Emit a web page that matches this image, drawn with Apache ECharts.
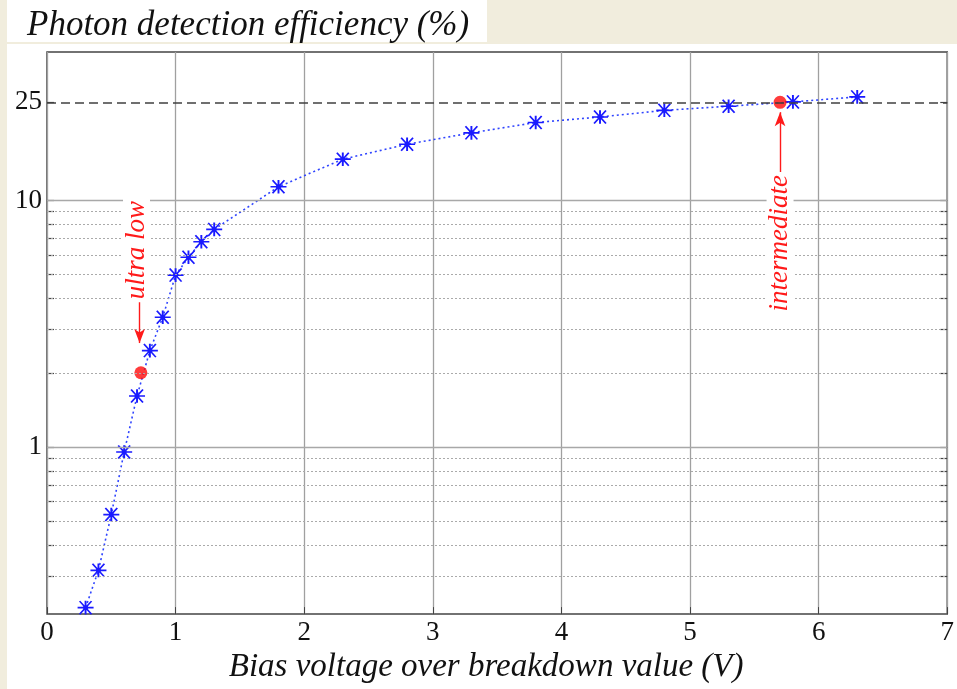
<!DOCTYPE html>
<html>
<head>
<meta charset="utf-8">
<script src="https://cdn.jsdelivr.net/npm/echarts@6/dist/echarts.min.js"></script>
<style>html,body{margin:0;padding:0;background:#fff}#c{width:957px;height:689px}</style>
</head>
<body>
<div id="c"></div>
<script>
// ---- data ----
const biasVoltage = [0.3, 0.4, 0.5, 0.6, 0.7, 0.8, 0.9, 1.0, 1.1, 1.2, 1.3, 1.8, 2.3, 2.8, 3.3, 3.8, 4.3, 4.8, 5.3, 5.8, 6.3];
const pdeValues   = [0.223, 0.316, 0.532, 0.954, 1.61, 2.46, 3.36, 4.98, 5.88, 6.80, 7.63, 11.36, 14.7, 16.9, 18.8, 20.7, 21.8, 23.2, 24.1, 25.1, 26.3];
const operatingNames = ['ultra low', 'intermediate'];
const operatingX = [0.73, 5.70];
const operatingY = [2.0, 25.0];
const yTickLabels = [1, 10, 25];
const yMajorGrid = [1, 10];
const yMinorGrid = [0.3, 0.4, 0.5, 0.6, 0.7, 0.8, 0.9, 2, 3, 4, 5, 6, 7, 8, 9];
const referenceLevel = 25;
const yTicksAll = [0.3, 0.4, 0.5, 0.6, 0.7, 0.8, 0.9, 1, 2, 3, 4, 5, 6, 7, 8, 9, 10, 25];

const serif = '"Liberation Serif", "Times New Roman", serif';
const asterisk = 'path://M0 8.8L20 8.8L20 11.2L0 11.2Z M8.8 0L11.2 0L11.2 20L8.8 20Z M1.7 1.1L3.4 -0.3L18.3 18.9L16.6 20.3Z M16.6 -0.3L18.3 1.1L3.4 20.3L1.7 18.9Z M7 7L13 7L13 13L7 13Z';

const gridLines = [];
yMajorGrid.forEach(v => gridLines.push({yAxis: v, lineStyle: {type: 'solid', color: '#a8a8a8', width: 1.3}}));
yMinorGrid.forEach(v => gridLines.push({yAxis: v, lineStyle: {type: [2, 2], color: '#aaaaaa', width: 1}}));
gridLines.push({yAxis: referenceLevel, lineStyle: {type: [9, 5], color: '#404040', width: 1.6}});

// annotation anchors (data coordinates)
const arrowSpecs = [
  {from: [0.72, 3.95], to: [0.72, 2.64], text: [0.696, 6.29]},
  {from: [5.70, 12.4], to: [5.70, 22.8], text: [5.70, 6.71]}
];

const chart = echarts.init(document.getElementById('c'));
const yAxisBase = {
  type: 'log', min: 0.21, max: 40, logBase: 10,
  axisLine: {show: false},
  splitLine: {show: false},
  axisTick: {show: true, inside: true, length: 7, lineStyle: {color: '#444', width: 1.2}, customValues: yTicksAll},
};
chart.setOption({
  animation: false,
  backgroundColor: '#ffffff',
  title: {
    text: 'Photon detection efficiency (%)',
    left: 27, top: 8, padding: 0,
    textStyle: {fontFamily: serif, fontStyle: 'italic', fontWeight: 'normal', fontSize: 35, color: '#111'}
  },
  graphic: {elements: [
    {type: 'rect', z: -10, shape: {x: 0, y: 0, width: 957, height: 44}, style: {fill: '#f1eddd'}},
    {type: 'rect', z: -10, shape: {x: 0, y: 0, width: 7, height: 689}, style: {fill: '#f1eddd'}},
    {type: 'rect', z: -9, shape: {x: 7, y: 0, width: 480, height: 42}, style: {fill: '#ffffff'}}
  ]},
  grid: {left: 47, right: 5, top: 52, bottom: 74, show: true, backgroundColor: '#fff', borderColor: '#444', borderWidth: 1.5},
  xAxis: {
    type: 'value', min: 0, max: 7, interval: 1,
    axisLine: {show: false},
    axisTick: {show: true, inside: true, length: 7, lineStyle: {color: '#444'}},
    splitLine: {show: true, lineStyle: {color: '#a0a0a0', width: 1.3}},
    axisLabel: {fontFamily: serif, fontSize: 27, color: '#111', margin: 5},
    name: 'Bias voltage over breakdown value (V)',
    nameLocation: 'middle', nameGap: 26,
    nameTextStyle: {fontFamily: serif, fontStyle: 'italic', fontSize: 33, color: '#111', padding: [0, 22, 0, 0]}
  },
  yAxis: [
    Object.assign({}, yAxisBase, {
      position: 'left',
      axisLabel: {show: true, fontFamily: serif, fontSize: 27, color: '#111', margin: 5, customValues: yTickLabels}
    }),
    Object.assign({}, yAxisBase, {position: 'right', axisLabel: {show: false}})
  ],
  series: [
    {
      type: 'line', data: [], silent: true, z: 1,
      markLine: {silent: true, symbol: 'none', label: {show: false}, animation: false, data: gridLines}
    },
    {
      type: 'line', z: 3,
      data: biasVoltage.map((x, i) => [x, pdeValues[i]]),
      symbol: asterisk, symbolSize: [16, 14], showSymbol: true,
      lineStyle: {type: [2, 3], color: '#3045ff', width: 1.6},
      itemStyle: {color: '#1a1aff'}
    },
    {
      type: 'scatter', z: 4,
      data: operatingX.map((x, i) => ({value: [x, operatingY[i]], name: operatingNames[i]})),
      symbol: 'circle', symbolSize: 13,
      itemStyle: {color: '#ff0a0a'}
    },
    {
      type: 'line', data: [], silent: true, z: 5,
      markLine: {
        silent: true, symbol: ['none', 'arrow'], symbolSize: [8, 14], label: {show: false},
        lineStyle: {color: '#ff1a1a', width: 1.4, type: 'solid'},
        data: arrowSpecs.map(a => [{coord: a.from}, {coord: a.to}])
      }
    }
  ]
});

function placeLabels() {
  const els = chart.getOption().graphic[0].elements.slice(0, 3).map(e => ({type: e.type, z: e.z, shape: e.shape, style: {fill: e.style.fill}}));
  arrowSpecs.forEach((a, i) => {
    const p = chart.convertToPixel({gridIndex: 0}, a.text);
    els.push({
      type: 'text', z: 20, x: p[0], y: p[1], rotation: Math.PI / 2,
      style: {
        text: operatingNames[i], fill: '#ff1a1a',
        font: 'italic 27px ' + serif,
        align: 'center', verticalAlign: 'middle',
        backgroundColor: '#ffffff', padding: [0, 3]
      }
    });
  });
  chart.setOption({graphic: {elements: els}}, {replaceMerge: ['graphic']});
}
placeLabels();
</script>
</body>
</html>
